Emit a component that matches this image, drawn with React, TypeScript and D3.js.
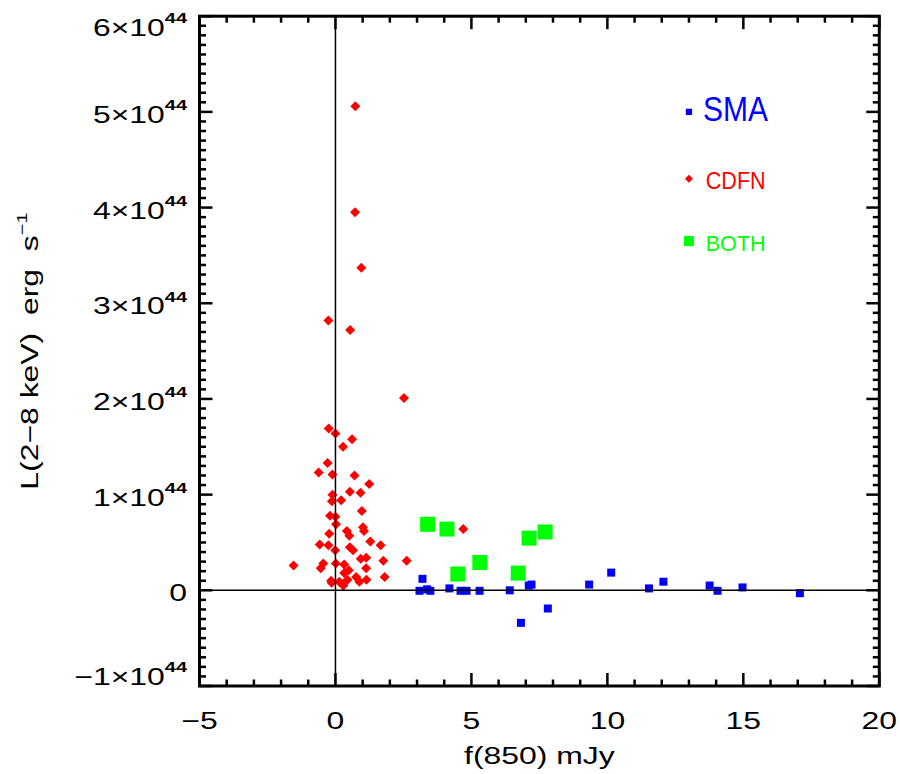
import React from 'react';
import * as d3 from 'd3';

// CDFN sources (red diamonds): f(850) mJy, L(2-8 keV) in units of 1e44 erg/s
const cdfnX = [0.73, 0.72, 0.95, -0.26, 0.54, 2.52, -0.25, 0.0, 0.61, 0.28, -0.29, -0.62, -0.11, 0.70, 1.24, 0.53, 0.92, -0.11, -0.13, 0.21, 0.97, -0.20, 0.0, 0.02, 1.01, 0.42, 1.05, 0.51, -0.23, 1.28, 1.66, -0.58, -0.26, 0.53, 0.65, -0.01, 0.93, 1.13, 1.76, 2.62, -1.54, -0.45, -0.54, 0.01, 0.32, 0.49, 1.13, 0.32, 1.81, -0.16, 0.14, 0.44, 0.76, 0.88, 1.14, 0.29, 4.70, 0.27, -0.14];
const cdfnY = [5.06, 3.95, 3.37, 2.82, 2.72, 2.01, 1.69, 1.64, 1.58, 1.50, 1.33, 1.23, 1.21, 1.20, 1.11, 1.03, 1.02, 1.00, 0.93, 0.94, 0.83, 0.78, 0.77, 0.69, 0.66, 0.62, 0.62, 0.57, 0.59, 0.51, 0.47, 0.48, 0.47, 0.45, 0.42, 0.42, 0.33, 0.34, 0.31, 0.31, 0.26, 0.28, 0.23, 0.28, 0.27, 0.21, 0.23, 0.18, 0.14, 0.10, 0.09, 0.11, 0.14, 0.09, 0.11, 0.05, 0.64, 0.06, 0.08];

// SMA sources (blue squares)
const smaX = [3.20, 3.09, 3.37, 3.49, 4.19, 4.60, 4.82, 5.30, 6.41, 7.11, 7.21, 6.82, 7.81, 9.33, 10.14, 11.53, 12.06, 13.76, 14.05, 14.97, 17.08];
const smaY = [0.12, -0.005, 0.01, -0.005, 0.02, -0.005, -0.005, -0.005, 0.0, 0.05, 0.06, -0.34, -0.19, 0.06, 0.185, 0.02, 0.09, 0.05, -0.005, 0.03, -0.03];

// Sources in both (green squares)
const bothX = [3.39, 4.10, 5.31, 4.50, 7.12, 7.71, 6.72];
const bothY = [0.69, 0.64, 0.29, 0.17, 0.545, 0.61, 0.18];

const xMajorTicks = [-5, 0, 5, 10, 15, 20];
const xTickLabels = ['\u22125', '0', '5', '10', '15', '20'];
const yMajorTicks = [-1, 0, 1, 2, 3, 4, 5, 6];
const yTickMantissa = ['\u22121', '0', '1', '2', '3', '4', '5', '6'];
const yTickExponent = '44';

const legendLabels = ['SMA', 'CDFN', 'BOTH'];
const legendColors = ['#0000ff', '#ff0000', '#00ff00'];

const W = 900;
const H = 774;
const L = 199.5;
const R = 879.3;
const T = 16.2;
const B = 686;
const FONT = '"Liberation Sans", Arial, Helvetica, sans-serif';
const SX = 1.33;

export default function App() {
  const x = d3.scaleLinear().domain([-5, 20]).range([L, R]);
  const y = d3.scaleLinear().domain([-1, 6]).range([B, T]);
  const xMinor = d3.range(-5, 21, 1).filter((v) => v % 5 !== 0);
  const yMinor = d3.range(-10, 61).map((v) => v / 10).filter((v) => Math.abs(v - Math.round(v)) > 1e-6);

  const diamond = (cx: number, cy: number, r: number) =>
    `M${cx},${cy - r}L${cx + r},${cy}L${cx},${cy + r}L${cx - r},${cy}Z`;

  const tickStroke = { stroke: '#000', strokeWidth: 2.5 };

  const legendY = [5.0, 4.3, 3.65];
  const legendSizes = [6.3, 0, 10];
  const legendFont = [35, 23.5, 22.3];
  const legendLen = [65, 60, 60];
  const legendTextX = [703, 705.7, 705.7];

  return (
    <svg width={W} height={H} style={{ position: 'absolute', left: 0, top: 0, background: '#fff' }}>
      <rect x={0} y={0} width={W} height={H} fill="#fff" />

      {/* data */}
      {cdfnX.map((v, i) => (
        <path key={'c' + i} d={diamond(x(v), y(cdfnY[i]), 5)} fill="#ff0000" />
      ))}
      {smaX.map((v, i) => (
        <rect key={'s' + i} x={x(v) - 4} y={y(smaY[i]) - 4} width={8} height={8} fill="#0000ff" />
      ))}
      {bothX.map((v, i) => (
        <rect key={'b' + i} x={x(v) - 7.5} y={y(bothY[i]) - 7.5} width={15} height={15} fill="#00ff00" />
      ))}

      {/* zero lines */}
      <line x1={x(0)} x2={x(0)} y1={T} y2={B} stroke="#000" strokeWidth={1.5} />
      <line x1={L} x2={R} y1={y(0)} y2={y(0)} stroke="#000" strokeWidth={1.5} />

      {/* frame */}
      <rect x={L} y={T} width={R - L} height={B - T} fill="none" stroke="#000" strokeWidth={3} />

      {/* x ticks */}
      {xMajorTicks.map((v) => (
        <g key={'xM' + v}>
          <line x1={x(v)} x2={x(v)} y1={B} y2={B - 13} {...tickStroke} />
          <line x1={x(v)} x2={x(v)} y1={T} y2={T + 13} {...tickStroke} />
        </g>
      ))}
      {xMinor.map((v) => (
        <g key={'xm' + v}>
          <line x1={x(v)} x2={x(v)} y1={B} y2={B - 6.5} {...tickStroke} />
          <line x1={x(v)} x2={x(v)} y1={T} y2={T + 6.5} {...tickStroke} />
        </g>
      ))}
      {/* y ticks */}
      {yMajorTicks.map((v) => (
        <g key={'yM' + v}>
          <line x1={L} x2={L + 13} y1={y(v)} y2={y(v)} {...tickStroke} />
          <line x1={R} x2={R - 13} y1={y(v)} y2={y(v)} {...tickStroke} />
        </g>
      ))}
      {yMinor.map((v) => (
        <g key={'ym' + v}>
          <line x1={L} x2={L + 6.5} y1={y(v)} y2={y(v)} {...tickStroke} />
          <line x1={R} x2={R - 6.5} y1={y(v)} y2={y(v)} {...tickStroke} />
        </g>
      ))}

      {/* x tick labels */}
      {xMajorTicks.map((v, i) => (
        <text
          key={'xl' + v}
          transform={`translate(${x(v)},${B + 43}) scale(${SX},1)`}
          textAnchor="middle"
          fontFamily={FONT}
          fontSize={24}
          fill="#000"
        >
          {xTickLabels[i]}
        </text>
      ))}

      {/* y tick labels */}
      {yMajorTicks.map((v, i) => {
        const by = Math.min(Math.max(y(v) + 11, 36), 685);
        return (
          <text
            key={'yl' + v}
            transform={`translate(187,${by}) scale(${SX},1)`}
            textAnchor="end"
            fontFamily={FONT}
            fontSize={24}
            fill="#000"
          >
            {v === 0 ? (
              '0'
            ) : (
              <>
                {yTickMantissa[i] + '\u00D710'}
                <tspan dy={-12.7} fontSize={15} fontWeight="bold">
                  {yTickExponent}
                </tspan>
              </>
            )}
          </text>
        );
      })}

      {/* axis titles */}
      <text
        transform={`translate(${(L + R) / 2},764) scale(${SX},1)`}
        textAnchor="middle"
        fontFamily={FONT}
        fontSize={24}
        fill="#000"
      >
        f(850) mJy
      </text>
      <text
        transform={`translate(38,${(T + B) / 2}) rotate(-90) scale(${SX},1)`}
        textAnchor="middle"
        fontFamily={FONT}
        fontSize={24}
        fill="#000"
      >
        {'L(2\u22128 keV)\u00A0\u00A0erg\u00A0\u00A0s'}
        <tspan dy={-11} fontSize={15}>
          {'\u22121'}
        </tspan>
      </text>

      {/* legend */}
      {legendLabels.map((lab, i) => {
        const cx = x(13.0);
        const cy = y(legendY[i]);
        const c = legendColors[i];
        const s = legendSizes[i];
        return (
          <g key={'lg' + lab}>
            {i === 1 ? (
              <path d={diamond(cx, cy, 4)} fill={c} />
            ) : (
              <rect x={cx - s / 2} y={cy - s / 2} width={s} height={s} fill={c} />
            )}
            <text
              x={legendTextX[i]}
              y={cy + (i === 0 ? 9.5 : 10)}
              fontFamily={FONT}
              fontSize={legendFont[i]}
              textLength={legendLen[i]}
              lengthAdjust="spacingAndGlyphs"
              fill={c}
            >
              {lab}
            </text>
          </g>
        );
      })}
    </svg>
  );
}
